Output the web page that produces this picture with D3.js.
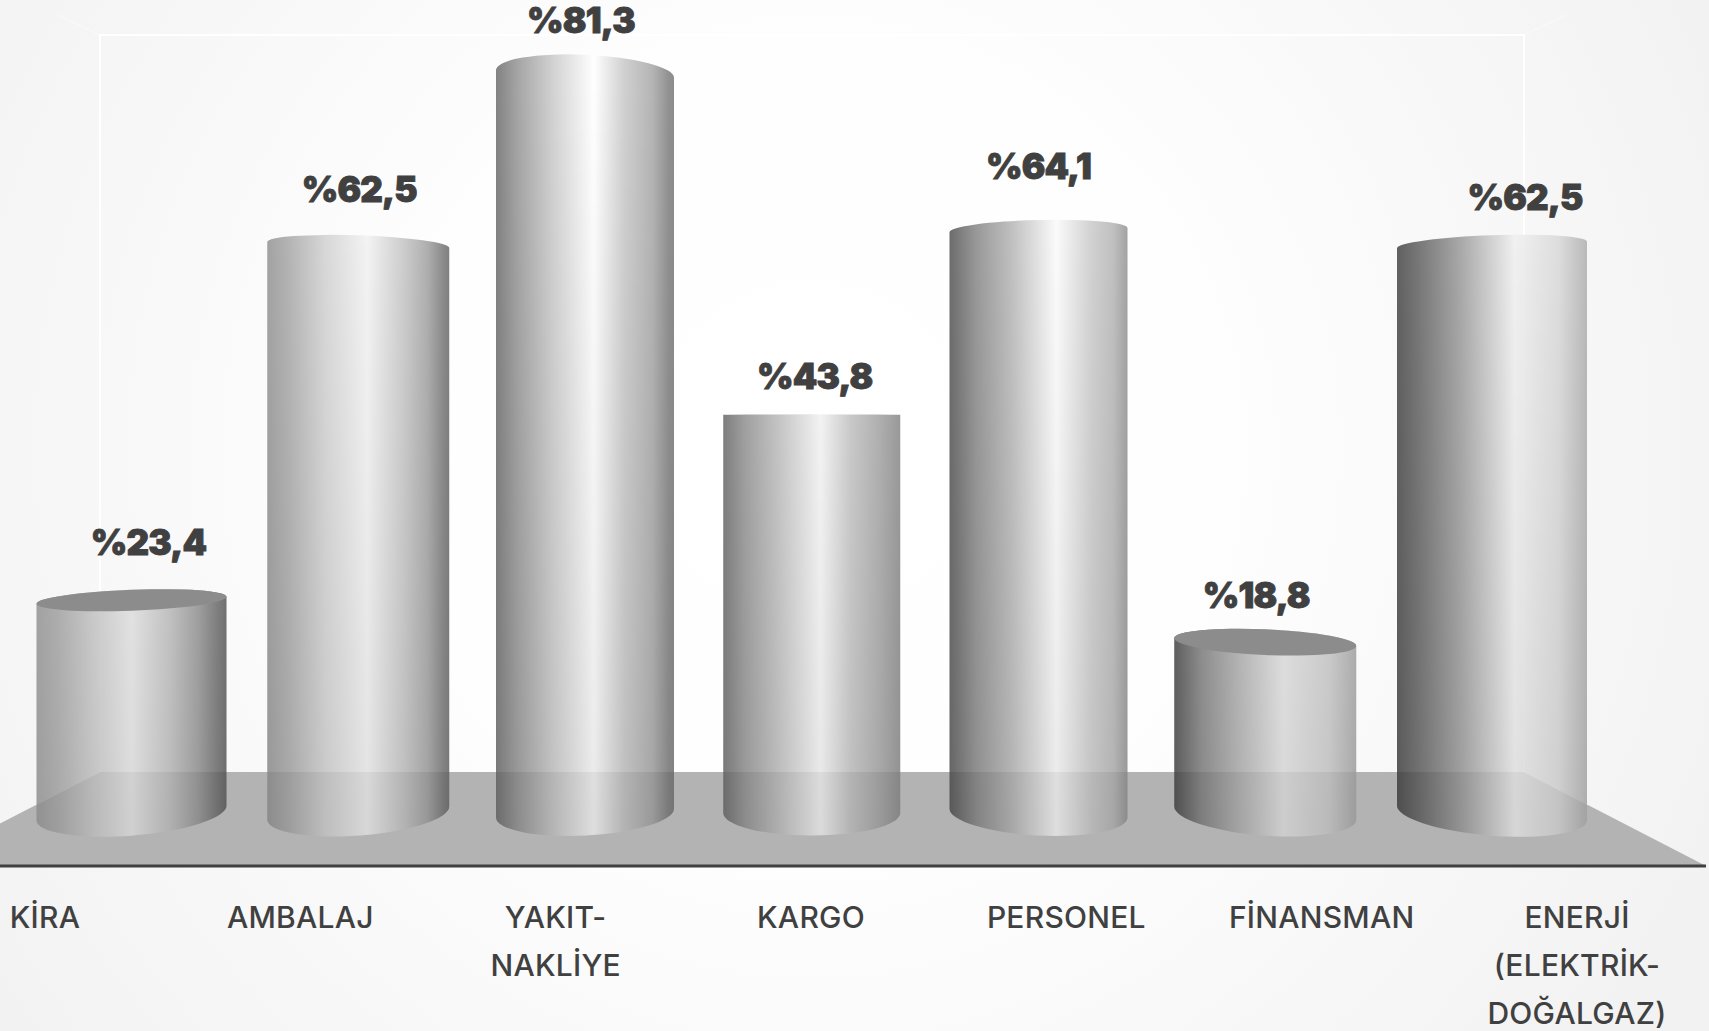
<!DOCTYPE html>
<html><head><meta charset="utf-8">
<script src="https://cdn.jsdelivr.net/npm/d3@7"></script>
<style>html,body{margin:0;padding:0;background:#fff;overflow:hidden}svg{display:block}</style>
</head><body><svg id="c" width="1709" height="1031"></svg>
<script>
const categories = ["KİRA","AMBALAJ","YAKIT-|NAKLİYE","KARGO","PERSONEL","FİNANSMAN","ENERJİ|(ELEKTRİK-|DOĞALGAZ)"];
const values = [23.4,62.5,81.3,43.8,64.1,18.8,62.5];
const valueLabels = ["%23,4","%62,5","%81,3","%43,8","%64,1","%18,8","%62,5"];

const W=1709,H=1031,horizon=415,INK="#404040",ALPHA=.82;
const svg=d3.select("#c"),defs=svg.append("defs");

// scales
const y=d3.scaleLinear().domain([0,81.3]).range([813,74]);
const x=d3.scaleLinear().domain([0,6]).range([131.5,1492]);
const xLabel=d3.scaleLinear().domain([0,6]).range([45,1577]);
const widths=[177,178,182,190];                        // cylinder width by distance from the centre bar
const ry=py=>.0565*Math.abs(py-horizon);               // ellipse flattening with perspective
const skew=i=>.02*Math.tanh((i-3)/1.5);                // tilt of the ellipses away from the centre

// layout tweaks for text only
const labelDx=[17,1,-4,3,0,-9,33], labelDy=[45,43,41,26,51,34,35];

// shading of each cylinder (offset %, grey as seen over white)
const shades=[
 [[0,172],[12,186],[30,214],[50,240],[70,206],[85,170],[95,135],[100,120]],
 [[0,166],[12,184],[32,220],[55,248],[75,208],[88,178],[97,140],[100,130]],
 [[0,130],[12,165],[32,210],[55,255],[72,208],[88,180],[97,145],[100,140]],
 [[0,130],[12,165],[32,205],[55,252],[72,208],[88,182],[100,158]],
 [[0,110],[15,155],[35,195],[60,255],[80,212],[92,195],[100,165]],
 [[0,100],[15,150],[35,190],[60,236],[85,216],[100,184]],
 [[0,98],[15,130],[35,176],[62,246],[85,226],[100,190]]
];

// background
const bg=defs.append("radialGradient").attr("id","bg").attr("gradientUnits","userSpaceOnUse")
  .attr("cx",812).attr("cy",450).attr("r",1000);
[[0,255],[40,254],[75,247],[100,242]].forEach(([o,g])=>bg.append("stop").attr("offset",o+"%").attr("stop-color",d3.rgb(g,g,g)));
svg.append("rect").attr("width",W).attr("height",H).attr("fill","url(#bg)");

// box: back wall and floor
const wall={l:100,r:1524,t:35,b:772}, front=866, slope=.516;
const frontL=wall.l-(front-wall.b)/slope, frontR=wall.r+(front-wall.b)/slope;
svg.append("path").attr("d",`M${wall.l},${wall.b}L${wall.r},${wall.b}L${frontR},${front}L${frontL},${front}Z`).attr("fill","#b3b3b3");
const wl=svg.append("g").attr("stroke","#fff").attr("stroke-width",2).attr("fill","none");
wl.append("path").attr("d",`M${wall.l},${wall.b}V${wall.t}H${wall.r}V${wall.b}`);
wl.append("path").attr("d",`M${wall.l},${wall.t}L${wall.l-42},${wall.t-20}M${wall.r},${wall.t}L${wall.r+42},${wall.t-20}`).attr("stroke-width",1).attr("stroke-opacity",.5);
wl.append("path").attr("d",`M${wall.l},${wall.b}L${wall.l-64},${wall.b+33}M${wall.r},${wall.b}L${wall.r+64},${wall.b+33}`).attr("stroke-width",1).attr("stroke-opacity",.5);
svg.append("line").attr("x1",0).attr("x2",1706).attr("y1",front).attr("y2",front).attr("stroke",INK).attr("stroke-width",3);

// depth darkening shared by all cylinders
const dk=defs.append("linearGradient").attr("id","dk").attr("gradientUnits","userSpaceOnUse")
  .attr("x1",0).attr("x2",0).attr("y1",y(81.3)).attr("y2",y(0));
dk.append("stop").attr("offset","0%").attr("stop-color","#000").attr("stop-opacity",0);
dk.append("stop").attr("offset","100%").attr("stop-color","#000").attr("stop-opacity",.08);

const toFill=g=>{const v=Math.max(0,Math.round((g-255*(1-ALPHA))/ALPHA));return d3.rgb(v,v,v)+""};

values.forEach((v,i)=>{
  const g=defs.append("linearGradient").attr("id","s"+i).attr("x1",0).attr("x2",1).attr("y1",0).attr("y2",0);
  shades[i].forEach(([o,c])=>g.append("stop").attr("offset",o+"%").attr("stop-color",toFill(c)));
});

const bars=svg.append("g").selectAll("g").data(values).join("g");
const geom=(v,i)=>{
  const w=widths[Math.abs(i-3)],cx=x(i),l=cx-w/2,r=cx+w/2,t=y(v),b=y(0),k=skew(i);
  const st=k*Math.abs(t-horizon)*(t<horizon?-1:1), sb=k*(b-horizon);
  const rotT=Math.atan2(2*st,w)*180/Math.PI, rotB=Math.atan2(2*sb,w)*180/Math.PI;
  const topRy=Math.max(ry(t),.5), botRy=ry(b);
  return {l,r,t,b,st,sb,rotT,rotB,topRy,botRy,w};
};
const bodyD=(v,i)=>{const q=geom(v,i);
  return `M${q.l},${q.t-q.st}A${q.w/2},${q.topRy} ${q.rotT} 0 1 ${q.r},${q.t+q.st}`+
         `L${q.r},${q.b+q.sb}A${q.w/2},${q.botRy} ${q.rotB} 0 1 ${q.l},${q.b-q.sb}Z`;};
bars.append("path").attr("d",bodyD).attr("fill",(d,i)=>`url(#s${i})`).attr("fill-opacity",ALPHA);
bars.append("path").attr("d",bodyD).attr("fill","url(#dk)");
bars.filter(d=>y(d)>horizon).append("path").attr("d",(v)=>{
  const i=values.indexOf(v),q=geom(v,i);
  return `M${q.l},${q.t-q.st}A${q.w/2},${q.topRy} ${q.rotT} 1 1 ${q.r},${q.t+q.st}A${q.w/2},${q.topRy} ${q.rotT} 1 1 ${q.l},${q.t-q.st}Z`;
}).attr("fill","#8c8c8c");

// value labels
svg.append("g").selectAll("text").data(valueLabels).join("text")
  .attr("x",(d,i)=>x(i)+labelDx[i]).attr("y",(d,i)=>y(values[i])-labelDy[i])
  .attr("text-anchor","middle").attr("fill",INK).attr("stroke",INK).attr("stroke-width",.9)
  .attr("letter-spacing",-.8)
  .attr("font-family","Inter,'Open Sans',sans-serif").attr("font-weight",900).attr("font-size",35)
  .text(d=>d);

// category labels
const cat=svg.append("g").selectAll("text").data(categories).join("text")
  .attr("text-anchor","middle").attr("fill",INK)
  .attr("font-family","Inter,Lato,sans-serif").attr("font-weight",500).attr("font-size",30)
  .attr("letter-spacing",.25);
cat.each(function(d,i){
  d3.select(this).selectAll("tspan").data(d.split("|")).join("tspan")
    .attr("x",xLabel(i)).attr("y",(s,j)=>928+48*j).text(s=>s);
});
</script></body></html>
